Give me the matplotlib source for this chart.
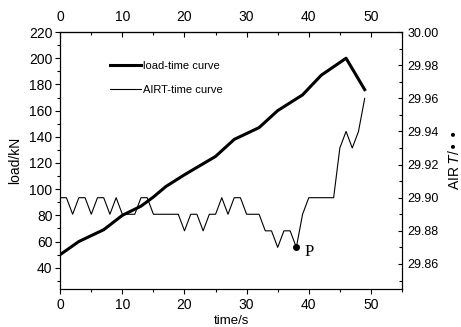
import matplotlib.pyplot as plt
from matplotlib.ticker import MultipleLocator

plt.rcParams['font.family'] = ['Liberation Sans', 'DejaVu Sans']

# load vs time
load_t = [0, 3, 7, 10, 13, 15, 17, 20, 25, 28, 32, 35, 39, 42, 46, 49]
load_kn = [50, 60, 69, 80, 87, 94, 102, 111, 125, 138, 147, 160, 172, 187, 200, 176]

# AIR temperature vs time
airt_t = [0, 1, 2, 3, 4, 5, 6, 7, 8, 9, 10, 12, 13, 14, 15, 19, 20, 21, 22, 23,
          24, 25, 26, 27, 28, 29, 30, 32, 33, 34, 35, 36, 37, 38, 39, 40, 44,
          45, 46, 47, 48, 49]
airt_v = [29.90, 29.90, 29.89, 29.90, 29.90, 29.89, 29.90, 29.90, 29.89, 29.90,
          29.89, 29.89, 29.90, 29.90, 29.89, 29.89, 29.88, 29.89, 29.89, 29.88,
          29.89, 29.89, 29.90, 29.89, 29.90, 29.90, 29.89, 29.89, 29.88, 29.88,
          29.87, 29.88, 29.88, 29.87, 29.89, 29.90, 29.90,
          29.93, 29.94, 29.93, 29.94, 29.96]

p_t, p_v = 38, 29.87

fig = plt.figure(figsize=(4.61, 3.27), dpi=100)
ax = fig.add_axes([0.1306, 0.1153, 0.7414, 0.7867])
ax2 = ax.twinx()

l1, = ax.plot(load_t, load_kn, color='black', lw=2.2, label='load-time curve')
l2, = ax2.plot(airt_t, airt_v, color='black', lw=0.8, label='AIRT-time curve')
ax2.plot([p_t], [p_v], 'o', color='black', ms=4)
ax2.text(p_t + 1.3, p_v - 0.005, 'P', family='Liberation Serif', fontsize=12)

ax.set_xlim(0, 55)
ax.set_ylim(23.5, 220)
ax2.set_ylim(29.8447, 30.0)

ax.xaxis.set_major_locator(MultipleLocator(10))
ax.xaxis.set_minor_locator(MultipleLocator(5))
ax.yaxis.set_major_locator(MultipleLocator(20))
ax.yaxis.set_minor_locator(MultipleLocator(10))
ax2.yaxis.set_major_locator(MultipleLocator(0.02))
ax2.yaxis.set_minor_locator(MultipleLocator(0.01))
ax2.yaxis.set_major_formatter(plt.FormatStrFormatter('%.2f'))

ax.tick_params(which='major', length=3.5, width=0.8, labelsize=10, pad=2)
ax.tick_params(which='minor', length=2, width=0.8)
ax.tick_params(axis='x', pad=3)
ax2.tick_params(axis='y', which='major', direction='in', length=3, width=0.8,
                labelsize=9, pad=4)
ax2.tick_params(axis='y', which='minor', direction='in', length=2, width=0.8)

top = ax.secondary_xaxis('top')
top.xaxis.set_major_locator(MultipleLocator(10))
top.xaxis.set_minor_locator(MultipleLocator(5))
top.tick_params(which='major', direction='in', length=3.5, width=0.8,
                labelsize=10, pad=6)
top.tick_params(which='minor', direction='in', length=2, width=0.8)

ax.set_xlabel('time/s', fontsize=9.5, labelpad=2)
ax.set_ylabel('load/kN', fontsize=10, labelpad=5)
ax2.set_ylabel('AIR $\\it{T}$/• •', fontsize=10, labelpad=6)

for a in (ax, ax2):
    for s in a.spines.values():
        s.set_linewidth(0.8)

ax2.legend([l1, l2], ['load-time curve', 'AIRT-time curve'], loc='upper left',
           bbox_to_anchor=(0.146, 0.889), frameon=False, fontsize=8,
           handlelength=2.8, handletextpad=0.2, labelspacing=1.3,
           borderpad=0, borderaxespad=0)

fig.savefig('out.png', dpi=100)
